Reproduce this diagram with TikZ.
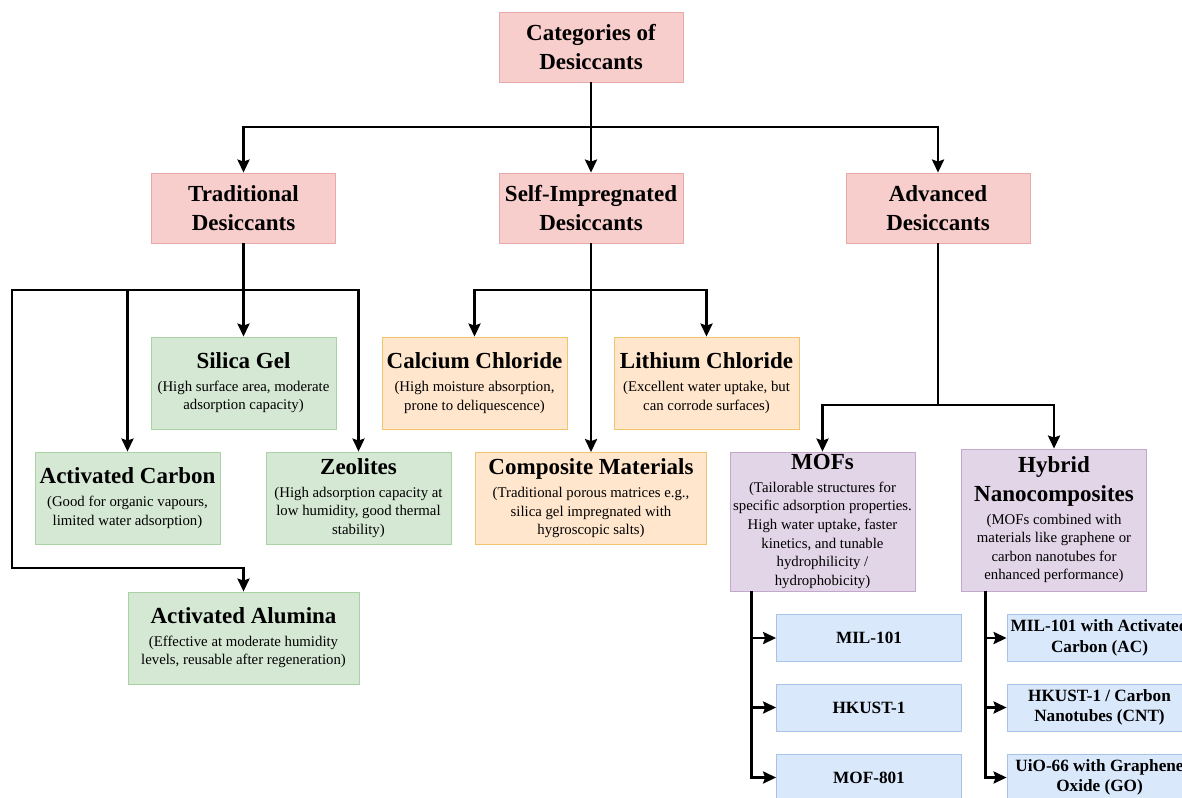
\documentclass[tikz,border=0pt]{standalone}
\usepackage{fontspec}
\setmainfont{Liberation Serif}
\usepackage{tikz}
\usetikzlibrary{arrows.meta}
\setlength{\parindent}{0pt}
\setlength{\parskip}{0pt}

\definecolor{pinkfill}{HTML}{F8CECC}
\definecolor{pinkline}{HTML}{E8A9AB}
\definecolor{greenfill}{HTML}{D5E8D4}
\definecolor{greenline}{HTML}{A9D3A5}
\definecolor{orangefill}{HTML}{FFE6CC}
\definecolor{orangeline}{HTML}{F0C46C}
\definecolor{purplefill}{HTML}{E1D5E7}
\definecolor{purpleline}{HTML}{C3A8CB}
\definecolor{bluefill}{HTML}{DAE8FC}
\definecolor{blueline}{HTML}{A7C3E5}

\newcommand{\ttl}{\fontsize{11.5pt}{14.25pt}\selectfont\bfseries}
\newcommand{\dsc}{\fontsize{7.4pt}{9.3pt}\selectfont}
\newcommand{\lfnt}{\fontsize{8.6pt}{10.3pt}\selectfont\bfseries}
\newcommand{\card}[2]{{\ttl #1\par}\vspace{2pt}{\dsc #2\par}}

\tikzset{
  hdr/.style={draw=pinkline, fill=pinkfill, minimum width=92pt, minimum height=35pt,
    text width=90pt, inner sep=1pt, align=flush center, font=\ttl},
  card/.style={draw=#1line, fill=#1fill, minimum width=92.5pt, minimum height=46pt,
    text width=90.5pt, inner sep=1pt, align=flush center},
  wide/.style={minimum width=115.5pt, text width=113.5pt},
  leaf/.style={draw=blueline, fill=bluefill, minimum width=92.5pt, minimum height=23.5pt,
    text width=90.5pt, inner sep=1pt, align=flush center, font=\lfnt},
  link/.style={->, line width=1.4pt}
}

\begin{document}
\begin{tikzpicture}[x=0.5pt, y=-0.5pt, >={Stealth[length=6.5pt,width=6pt,inset=1pt]}]
    \path[use as bounding box, fill=white] (0,0) rectangle (1182,797);
    \clip (0,0) rectangle (1182,797);
    % bus lines
    \coordinate (bustop) at (0,127);
    \coordinate (busmid) at (0,290);
    \coordinate (busadv) at (0,405);
    \coordinate (rail) at (12,568);

    \node[hdr] (cat)  at (591,47)  {Categories of\\Desiccants};
    \node[hdr] (trad) at (243.5,208) {Traditional\\Desiccants};
    \node[hdr] (self) at (591,208) {Self-Impregnated\\Desiccants};
    \node[hdr] (adv)  at (938,208) {Advanced\\Desiccants};

    \node[card=green] (silica) at (243.5,383) {\card{Silica Gel}{(High surface area, moderate\\adsorption capacity)}};
    \node[card=green] (carbon) at (127.5,498) {\card{Activated Carbon}{(Good for organic vapours,\\limited water adsorption)}};
    \node[card=green] (zeol)   at (358.5,498) {\card{Zeolites}{(High adsorption capacity at\\low humidity, good thermal\\stability)}};
    \node[card=green, wide] (alum) at (243.5,638) {\card{Activated Alumina}{(Effective at moderate humidity\\levels, reusable after regeneration)}};

    \node[card=orange] (calc) at (474.5,383) {\card{Calcium Chloride}{(High moisture absorption,\\prone to deliquescence)}};
    \node[card=orange] (lith) at (706.5,383) {\card{Lithium Chloride}{(Excellent water uptake, but\\can corrode surfaces)}};
    \node[card=orange, wide] (comp) at (591,498.5) {\card{Composite Materials}{(Traditional porous matrices e.g.,\\silica gel impregnated with\\hygroscopic salts)}};

    \node[card=purple, minimum height=69.5pt] (mofs) at (822.5,521.5) {\card{MOFs}{(Tailorable structures for\\specific adsorption properties.\\High water uptake, faster\\kinetics, and tunable\\hydrophilicity /\\hydrophobicity)}};
    \node[card=purple, minimum height=71pt] (hyb) at (1054,520) {\card{Hybrid\\Nanocomposites}{(MOFs combined with\\materials like graphene or\\carbon nanotubes for\\enhanced performance)}};

    \node[leaf] (mil)    at (869,638)   {MIL-101};
    \node[leaf] (hkust)  at (869,707.5) {HKUST-1};
    \node[leaf] (mof801) at (869,777.5) {MOF-801};
    \node[leaf] (milac)  at (1099.5,638)   {MIL-101 with Activated\\Carbon (AC)};
    \node[leaf] (hkcnt)  at (1099.5,707.5) {HKUST-1 / Carbon\\Nanotubes (CNT)};
    \node[leaf] (uiogo)  at (1099.5,777.5) {UiO-66 with Graphene\\Oxide (GO)};

    \draw[link] (cat) -- (self);
    \draw[link] (cat.south) -- (cat.south |- bustop) -| (trad.north);
    \draw[link] (cat.south) -- (cat.south |- bustop) -| (adv.north);

    \draw[link] (trad) -- (silica);
    \draw[link] (trad.south) -- (trad.south |- busmid) -| (carbon.north);
    \draw[link] (trad.south) -- (trad.south |- busmid) -| (zeol.north);
    \draw[link] (trad.south) -- (trad.south |- busmid) -| (rail) -| (alum.north);

    \draw[link] (self) -- (comp);
    \draw[link] (self.south) -- (self.south |- busmid) -| (calc.north);
    \draw[link] (self.south) -- (self.south |- busmid) -| (lith.north);

    \draw[link] (adv.south) -- (adv.south |- busadv) -| (mofs.north);
    \draw[link] (adv.south) -- (adv.south |- busadv) -| (hyb.north);

    \coordinate (mtrunk) at ([xshift=11pt]mofs.south west);
    \coordinate (htrunk) at ([xshift=12pt]hyb.south west);
    \draw[link] (mtrunk) |- (mil.west);
    \draw[link] (mtrunk) |- (hkust.west);
    \draw[link] (mtrunk) |- (mof801.west);
    \draw[link] (htrunk) |- (milac.west);
    \draw[link] (htrunk) |- (hkcnt.west);
    \draw[link] (htrunk) |- (uiogo.west);
\end{tikzpicture}
\end{document}
